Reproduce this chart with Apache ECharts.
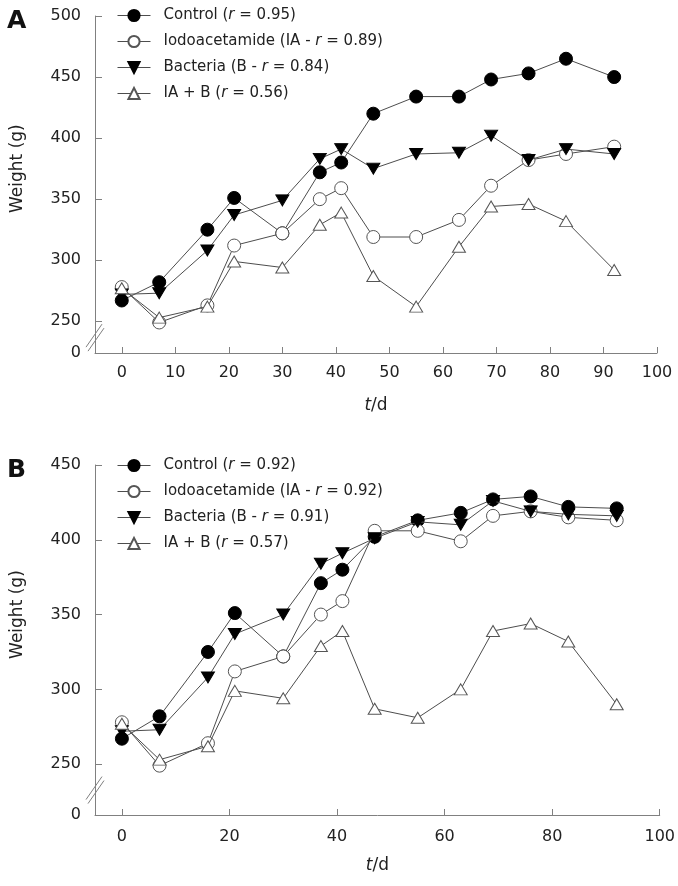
<!DOCTYPE html>
<html>
<head>
<meta charset="utf-8">
<script src="https://cdn.jsdelivr.net/npm/echarts@6/dist/echarts.min.js"></script>
<style>
    html, body { margin: 0; padding: 0; background: #fff; }
    #main { width: 678px; height: 886px; }
</style>
</head>
<body>
<div id="main"></div>
<script>
    // sampling days (same for both panels)
    var days = [0, 7, 16, 21, 30, 37, 41, 47, 55, 63, 69, 76, 83, 92];

    // panel A
    var namesA = ['Control (r = 0.95)', 'Iodoacetamide (IA - r = 0.89)', 'Bacteria (B - r = 0.84)', 'IA + B (r = 0.56)'];
    var controlA = [267, 282, 325, 351, 322, 372, 380, 420, 434, 434, 448, 453, 465, 450];
    var iaA = [278, 249, 263, 312, 322, 350, 359, 319, 319, 333, 361, 382, 387, 393];
    var bactA = [272, 273, 308, 337, 349, 383, 391, 375, 387, 388, 402, 382, 391, 387];
    var iabA = [277, 253, 262, 299, 294, 329, 339, 287, 262, 311, 344, 346, 332, 292];

    // panel B
    var namesB = ['Control (r = 0.92)', 'Iodoacetamide (IA - r = 0.92)', 'Bacteria (B - r = 0.91)', 'IA + B (r = 0.57)'];
    var controlB = [267, 282, 325, 351, 322, 371, 380, 402, 413, 418, 427, 429, 422, 421];
    var iaB = [278, 249, 264, 312, 322, 350, 359, 406, 406, 399, 416, 419, 415, 413];
    var bactB = [272, 273, 308, 337, 350, 384, 391, 401, 412, 410, 426, 419, 417, 416];
    var iabB = [277, 253, 262, 299, 294, 329, 339, 287, 281, 300, 339, 344, 332, 290];

    // axis ticks
    var xTicksA = [0, 10, 20, 30, 40, 50, 60, 70, 80, 90, 100];
    var xTicksB = [0, 20, 40, 60, 80, 100];
    var yTicksA = [250, 300, 350, 400, 450, 500];
    var yTicksB = [250, 300, 350, 400, 450];
    // bottom of the broken y axis stands for 0
    var yBreakA = 224;
    var yBreakB = 216;

    var FONT = 'DejaVu Sans';
    var AXIS_COLOR = '#808080';
    var LINE_COLOR = '#4d4d4d';

    var myChart = echarts.init(document.getElementById('main'));

    function pairs(ys) {
        return days.map(function (d, i) { return [d, ys[i]]; });
    }

    // marker look per group: filled circle, open circle, filled down triangle, open triangle
    function makeSeries(names, lists, idx) {
        var looks = [
            { symbol: 'circle', size: 13, fill: '#000', border: '#000', rotate: 0 },
            { symbol: 'circle', size: 13, fill: '#fff', border: '#555', rotate: 0 },
            { symbol: 'triangle', size: [13, 11], fill: '#000', border: '#000', rotate: 180 },
            { symbol: 'triangle', size: [13, 11], fill: '#fff', border: '#555', rotate: 0 }
        ];
        return lists.map(function (ys, i) {
            var lk = looks[i];
            return {
                name: names[i],
                type: 'line',
                xAxisIndex: idx,
                yAxisIndex: idx,
                data: pairs(ys),
                symbol: lk.symbol,
                symbolSize: lk.size,
                symbolRotate: lk.rotate,
                showAllSymbol: true,
                lineStyle: { color: LINE_COLOR, width: 1 },
                itemStyle: { color: lk.fill, borderColor: lk.border, borderWidth: 1 },
                emphasis: { disabled: true },
                animation: false,
                z: 2 + i
            };
        });
    }

    function makeX(idx, ticks, labelMargin, nameGap) {
        return {
            type: 'value',
            gridIndex: idx,
            min: -5,
            max: 100,
            name: '{i|t}/d',
            nameLocation: 'middle',
            nameGap: nameGap,
            nameTextStyle: {
                fontFamily: FONT, fontSize: 17, color: '#222',
                rich: { i: { fontFamily: FONT, fontSize: 17, fontStyle: 'italic', color: '#222' } }
            },
            splitLine: { show: false },
            axisLine: { onZero: false, lineStyle: { color: AXIS_COLOR, width: 1 } },
            axisTick: { inside: true, length: 6, customValues: ticks, lineStyle: { color: AXIS_COLOR } },
            axisLabel: {
                customValues: ticks, margin: labelMargin,
                fontFamily: FONT, fontSize: 16, color: '#222'
            }
        };
    }

    function makeY(idx, lo, hi, ticks) {
        return {
            type: 'value',
            gridIndex: idx,
            min: lo,
            max: hi,
            splitLine: { show: false },
            axisLine: { onZero: false, lineStyle: { color: AXIS_COLOR, width: 1 } },
            axisTick: { inside: true, length: 7, customValues: ticks, lineStyle: { color: AXIS_COLOR } },
            axisLabel: {
                customValues: [lo].concat(ticks),
                margin: 14,
                fontFamily: FONT, fontSize: 16, color: '#222',
                formatter: function (v) { return v === lo ? '0' : String(v); }
            }
        };
    }

    function makeLegend(names, top) {
        return {
            data: names,
            orient: 'vertical',
            left: 117,
            top: top,
            padding: 0,
            itemWidth: 33,
            itemHeight: 14,
            itemGap: 11,
            selectedMode: false,
            lineStyle: { width: 1, color: LINE_COLOR },
            formatter: function (n) { return n.replace('r =', '{i|r} ='); },
            textStyle: {
                fontFamily: FONT, fontSize: 15, color: '#222', padding: [0, 0, 0, 8],
                rich: { i: { fontFamily: FONT, fontSize: 15, fontStyle: 'italic', color: '#222' } }
            }
        };
    }

    var option = {
        backgroundColor: '#fff',
        animation: false,
        title: [
            { text: 'A', left: 7, top: 9, padding: 0, textStyle: { fontFamily: FONT, fontSize: 25, fontWeight: 'bold', color: '#111' } },
            { text: 'B', left: 7, top: 458, padding: 0, textStyle: { fontFamily: FONT, fontSize: 25, fontWeight: 'bold', color: '#111' } }
        ],
        legend: [makeLegend(namesA, 8), makeLegend(namesB, 458)],
        grid: [
            { left: 95, right: 21, top: 16, height: 337 },
            { left: 95, right: 17, top: 465, height: 350 }
        ],
        xAxis: [makeX(0, xTicksA, 12, 44), makeX(1, xTicksB, 14, 42)],
        yAxis: [makeY(0, yBreakA, 500, yTicksA), makeY(1, yBreakB, 450, yTicksB)],
        series: makeSeries(namesA, [controlA, iaA, bactA, iabA], 0)
            .concat(makeSeries(namesB, [controlB, iaB, bactB, iabB], 1))
    };
    myChart.setOption(option);

    // y-axis titles (centred on the unbroken part) and the axis break marks
    var extras = [];
    [[0, yBreakA, 250, 500], [1, yBreakB, 250, 450]].forEach(function (p) {
        var lowPt = myChart.convertToPixel({ gridIndex: p[0] }, [-5, p[1]]);
        var brkPt = myChart.convertToPixel({ gridIndex: p[0] }, [-5, p[2]]);
        var topPt = myChart.convertToPixel({ gridIndex: p[0] }, [-5, p[3]]);
        var x0 = lowPt[0];
        var mid = (lowPt[1] + brkPt[1]) / 2;
        extras.push({
            type: 'text',
            x: 18,
            y: (brkPt[1] + topPt[1]) / 2,
            rotation: Math.PI / 2,
            style: {
                text: 'Weight (g)', fontFamily: FONT, fontSize: 17, fill: '#222',
                align: 'center', verticalAlign: 'middle'
            }
        });
        extras.push({
            type: 'line',
            shape: { x1: x0 - 9, y1: mid + 10, x2: x0 + 7, y2: mid - 13 },
            style: { stroke: AXIS_COLOR, lineWidth: 1 }
        });
        extras.push({
            type: 'line',
            shape: { x1: x0 - 7, y1: mid + 14, x2: x0 + 9, y2: mid - 9 },
            style: { stroke: AXIS_COLOR, lineWidth: 1 }
        });
    });
    myChart.setOption({ graphic: extras });
</script>
</body>
</html>
